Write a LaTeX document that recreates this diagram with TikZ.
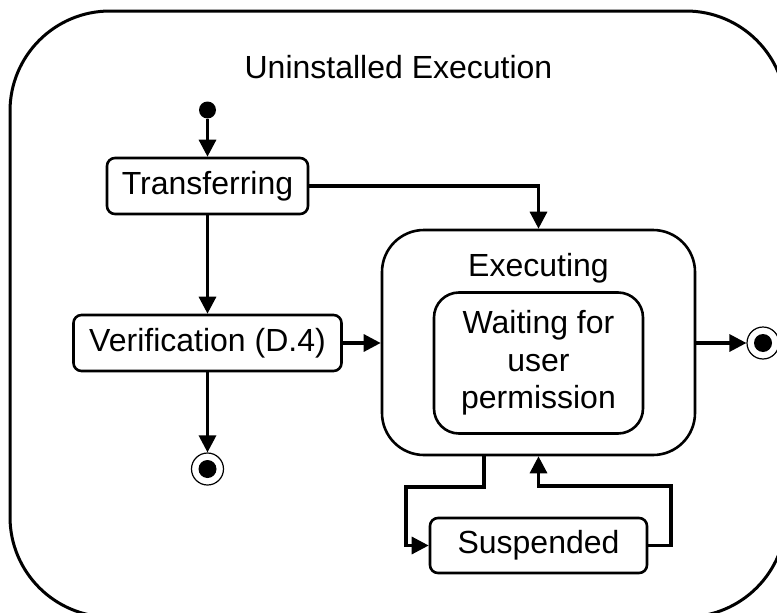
\documentclass[tikz,border=0pt]{standalone}
\usepackage{fontspec}
\setmainfont{Liberation Sans}
\usetikzlibrary{arrows.meta}
\begin{document}
\begin{tikzpicture}[x=1pt,y=-1pt,
  every node/.style={font=\fontsize{32}{37.5}\selectfont},
  statebox/.style={draw, line width=2.6pt, rounded corners=8pt, inner sep=0pt},
  arr/.style={-{Triangle[length=17pt,width=17pt]}, line width=3.2pt},
  conn/.style={line width=3.2pt}]
\useasboundingbox (0,0) rectangle (777,613);
\clip (0,0) rectangle (777,613);
\node[draw, line width=3pt, rounded corners=100pt, minimum width=776pt, minimum height=606pt, inner sep=0pt] (outer) at (398,314) {};
\node (title) at (398.5,67) {Uninstalled Execution};
\node[circle, fill, minimum size=17pt, inner sep=0pt] (init) at (207.5,110) {};
\node[statebox, minimum width=201pt, minimum height=56pt] (trans) at (207.5,186) {Transferring};
\node[statebox, minimum width=268pt, minimum height=56pt] (verif) at (207.5,343) {Verification (D.4)};
\node[circle, draw, line width=1.2pt, minimum size=32pt, inner sep=0pt] (fin1) at (207.5,469) {};
\fill (fin1) circle (9pt);
\node[statebox, rounded corners=42pt, minimum width=313pt, minimum height=225pt] (exec) at (538.5,342.5) {};
\node (execlbl) at (538.5,268) {Executing};
\node[statebox, rounded corners=25pt, minimum width=209pt, minimum height=141pt, align=center] (wait) at (538.5,363) {Waiting for\\user\\permission};
\node[circle, draw, line width=1.2pt, minimum size=32pt, inner sep=0pt] (fin2) at (763,343) {};
\fill (fin2) circle (9pt);
\node[statebox, minimum width=217pt, minimum height=55pt] (susp) at (538.5,545.5) {Suspended};
\coordinate (lp) at (406,487);
\coordinate (rp) at (671,486);
\draw[arr] (init) -- (trans);
\draw[arr] (trans) -- (verif);
\draw[arr] (verif) -- (fin1);
\draw[arr] (verif.east) -- (exec.west |- verif.east);
\draw[arr] (trans.east) -| (exec.north);
\draw[arr] (exec.east |- fin2) -- (fin2);
\draw[arr] ([xshift=-54.5pt]exec.south) |- (lp) |- (susp.west);
\draw[arr] (susp.east) -| (rp) -| (exec.south);
\end{tikzpicture}
\end{document}
